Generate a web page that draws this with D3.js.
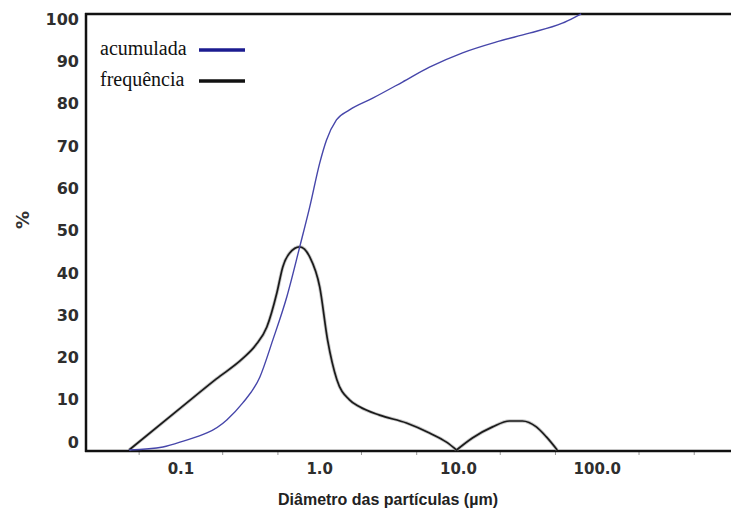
<!DOCTYPE html>
<html>
<head>
<meta charset="utf-8">
<script src="https://cdn.jsdelivr.net/npm/d3@7"></script>
<style>
  html, body { margin: 0; padding: 0; background: #fff; }
  svg { display: block; }
</style>
</head>
<body>
<svg id="chart" width="731" height="519"></svg>
<script>
// ---- data ----
const xTickValues = [0.1, 1, 10, 100];
const xTickLabels = ["0.1", "1.0", "10.0", "100.0"];
const yTickValues = [0, 10, 20, 30, 40, 50, 60, 70, 80, 90, 100];
const minorTickValues = [0.05, 0.2, 0.5, 2, 5, 20, 50, 200, 500];

// frequência (black)
const freqDiameter = [0.0423, 0.1, 0.18, 0.279, 0.345, 0.416, 0.491, 0.542, 0.608, 0.718, 0.847, 1.0, 1.14, 1.33, 1.64, 1.94, 2.70, 4.22, 6.18, 8.20, 9.69, 12.6, 17.6, 23.3, 28.9, 36.4, 43.0, 51.5];
const freqValue    = [0,      9.7, 16.3, 21.0,  24.0,  28.2,  36.0,  42.0,  45.2,  46.6,  44.3,  37.4, 25.2, 16.1, 11.5, 9.9,  8.0,  6.2,  3.9,  1.8,  0,    2.75, 5.3,  6.65, 6.65, 5.3,  3.0,  0];

// acumulada (blue)
const cumDiameter = [0.0423, 0.0742, 0.0984, 0.214, 0.279, 0.370, 0.459, 0.579, 0.718, 0.847, 1.0,  1.12, 1.32, 1.64, 2.41, 3.95, 6.18, 10.7, 18.8, 32.4, 56.0, 74.3, 76.5];
const cumValue    = [0,      0.7,    1.8,    6.9,   10.8,  16.7,  25.2,  35.1,  46.6,  55.7,  65.8, 71.1, 75.7, 78.0, 80.7, 84.4, 87.8, 91.1, 93.6, 95.6, 97.9, 99.8, 100];

const legendLabels = ["acumulada", "frequência"];
const xTitle = "Diâmetro das partículas (µm)";
const yTitle = "%";

// ---- drawing ----
const svg = d3.select("#chart");
svg.append("rect").attr("width", 731).attr("height", 519).attr("fill", "#fff");

const x = d3.scaleLog().domain([0.0207, 920]).range([86, 731]);
const y = d3.scaleLinear().domain([0, 100]).range([450, 14]);
// tick labels in the original sit on a slightly compressed grid
const yLabel = d3.scaleLinear().domain([0, 100]).range([442, 19]);

const tickFont = "'DejaVu Sans', Verdana, sans-serif";

// y tick labels
svg.append("g").selectAll("text").data(yTickValues).join("text")
  .attr("x", 79)
  .attr("y", d => yLabel(d))
  .attr("dy", "0.36em")
  .attr("text-anchor", "end")
  .attr("font-family", tickFont)
  .attr("font-weight", "bold")
  .attr("font-size", 16)
  .attr("fill", "#2e2e2e")
  .text(d => d);

// x tick labels
svg.append("g").selectAll("text").data(xTickValues).join("text")
  .attr("x", d => x(d))
  .attr("y", 474)
  .attr("text-anchor", "middle")
  .attr("font-family", tickFont)
  .attr("font-weight", "bold")
  .attr("font-size", 15)
  .attr("fill", "#2e2e2e")
  .text((d, i) => xTickLabels[i]);

// minor ticks
svg.append("g").selectAll("line").data(minorTickValues).join("line")
  .attr("x1", d => x(d)).attr("x2", d => x(d))
  .attr("y1", 451).attr("y2", 455)
  .attr("stroke", "#999").attr("stroke-width", 1);

// axis lines
svg.append("line").attr("x1", 86).attr("x2", 86).attr("y1", 13).attr("y2", 452)
  .attr("stroke", "#111").attr("stroke-width", 2.5);
svg.append("line").attr("x1", 85).attr("x2", 731).attr("y1", 14).attr("y2", 14)
  .attr("stroke", "#111").attr("stroke-width", 2.5);
svg.append("line").attr("x1", 85).attr("x2", 731).attr("y1", 451).attr("y2", 451)
  .attr("stroke", "#111").attr("stroke-width", 2.5);

// curves
const cumData = cumDiameter.map((d, i) => [d, cumValue[i]]);
const freqData = freqDiameter.map((d, i) => [d, freqValue[i]]);

// split the frequency curve at its interior zero so each lobe is smoothed on its own
const splitIdx = freqValue.findIndex((v, i) => i > 0 && i < freqValue.length - 1 && v === 0);
const freqParts = [freqData.slice(0, splitIdx + 1), freqData.slice(splitIdx)];

const freqLine = d3.line().x(d => x(d[0])).y(d => y(d[1])).curve(d3.curveMonotoneX);
const cumLine = d3.line().x(d => x(d[0])).y(d => y(d[1])).curve(d3.curveMonotoneX);

freqParts.forEach(part => {
  svg.append("path").datum(part)
    .attr("d", freqLine)
    .attr("fill", "none").attr("stroke", "#999").attr("stroke-width", 3.4)
    .attr("stroke-linejoin", "round").attr("opacity", 0.55);
  svg.append("path").datum(part)
    .attr("d", freqLine)
    .attr("fill", "none").attr("stroke", "#1a1a1a").attr("stroke-width", 1.7)
    .attr("stroke-linejoin", "round");
});

svg.append("path").datum(cumData)
  .attr("d", cumLine)
  .attr("fill", "none").attr("stroke", "#4646aa").attr("stroke-width", 1.4);

// legend
const legendColors = ["#1c1c90", "#111"];
const legendY = [50, 81];
const lg = svg.append("g");
legendLabels.forEach((t, i) => {
  const ly = legendY[i];
  lg.append("text").attr("x", 100).attr("y", ly + 5)
    .attr("font-family", "'Liberation Serif', 'Times New Roman', serif")
    .attr("font-size", 20).attr("fill", "#111").text(t);
  lg.append("line").attr("x1", 199).attr("x2", 245).attr("y1", ly).attr("y2", ly)
    .attr("stroke", legendColors[i]).attr("stroke-width", 3.5);
});

// axis titles
svg.append("text").attr("x", 388).attr("y", 505)
  .attr("text-anchor", "middle")
  .attr("font-family", "'Liberation Sans', Arial, sans-serif")
  .attr("font-weight", "bold").attr("font-size", 16).attr("fill", "#222")
  .text(xTitle);

svg.append("text")
  .attr("transform", "translate(29,220) rotate(-90)")
  .attr("text-anchor", "middle")
  .attr("font-family", tickFont)
  .attr("font-weight", "bold").attr("font-size", 18).attr("fill", "#333")
  .text(yTitle);
</script>
</body>
</html>
